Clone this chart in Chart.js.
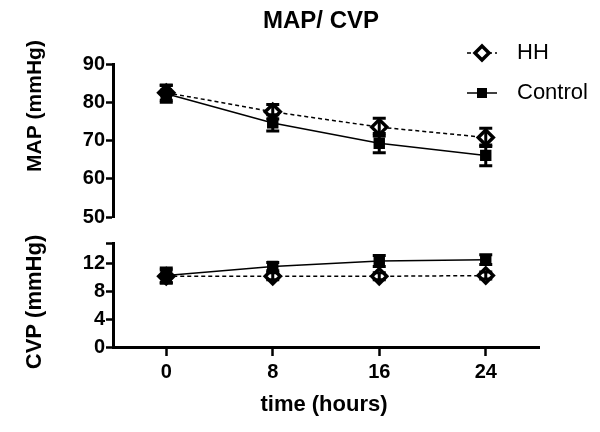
<!DOCTYPE html>
<html>
<head>
<meta charset="utf-8">
<script src="https://cdn.jsdelivr.net/npm/chart.js@4.4.0/dist/chart.umd.min.js"></script>
<style>
  body { margin: 0; background: #fff; }
  #wrap { position: relative; width: 600px; height: 432px; background: #fff; }
  #mapChart { position: absolute; left: 0; top: 0; width: 600px; height: 228px; }
  #cvpChart { position: absolute; left: 0; top: 228px; width: 600px; height: 204px; }
</style>
</head>
<body>
<div id="wrap">
  <canvas id="mapChart" width="600" height="228"></canvas>
  <canvas id="cvpChart" width="600" height="204"></canvas>
</div>
<script>
// data (mean +/- SEM)
var hours = [0, 8, 16, 24];
var mapHH = [82.5, 77.5, 73.5, 70.8];
var mapHHErr = [2.0, 1.9, 2.3, 2.4];
var mapControl = [82.2, 74.6, 69.3, 66.1];
var mapControlErr = [2.2, 2.1, 2.5, 2.7];
var cvpHH = [10.2, 10.2, 10.2, 10.3];
var cvpHHErr = [0.9, 0.5, 0.5, 0.5];
var cvpControl = [10.3, 11.6, 12.4, 12.6];
var cvpControlErr = [1.1, 0.6, 0.8, 0.7];

var timeTicks = [0, 8, 16, 24];
var mapTicks = [50, 60, 70, 80, 90];
var cvpTicks = [0, 4, 8, 12];
var cvpMax = 15;

var FONT = "'Liberation Sans', Arial, sans-serif";

function pts(xs, ys) {
  return xs.map(function (x, i) { return { x: x, y: ys[i] }; });
}

function hhSet(values, errs) {
  return {
    label: 'HH', data: pts(hours, values), errors: errs,
    borderColor: '#000', borderWidth: 1.5, borderDash: [4, 3],
    pointStyle: 'rectRot', pointRadius: 7.5, pointBorderWidth: 3.5,
    pointBackgroundColor: '#fff', pointBorderColor: '#000', order: 1
  };
}
function ctrlSet(values, errs) {
  return {
    label: 'Control', data: pts(hours, values), errors: errs,
    borderColor: '#000', borderWidth: 1.5,
    pointStyle: 'rect', pointRadius: 7, pointBorderWidth: 1.5,
    pointBackgroundColor: '#000', pointBorderColor: '#000', order: 0
  };
}

// error bars drawn through the y scale
var errorBars = {
  id: 'errorBars',
  afterDatasetsDraw: function (chart) {
    var ctx = chart.ctx, ys = chart.scales.y;
    ctx.save();
    ctx.strokeStyle = '#000';
    ctx.lineWidth = 3;
    chart.data.datasets.forEach(function (ds, i) {
      chart.getDatasetMeta(i).data.forEach(function (p, j) {
        var v = ds.data[j].y, e = ds.errors[j];
        var t = ys.getPixelForValue(v + e), b = ys.getPixelForValue(v - e);
        ctx.beginPath();
        ctx.moveTo(p.x, t); ctx.lineTo(p.x, b);
        ctx.moveTo(p.x - 6.5, t); ctx.lineTo(p.x + 6.5, t);
        ctx.moveTo(p.x - 6.5, b); ctx.lineTo(p.x + 6.5, b);
        ctx.stroke();
      });
    });
    ctx.restore();
  }
};

// free text (titles) and the legend
var texts = {
  id: 'texts',
  afterDraw: function (chart, args, opts) {
    var ctx = chart.ctx;
    (opts.items || []).forEach(function (it) {
      ctx.save();
      ctx.translate(it.x, it.y);
      if (it.rot) ctx.rotate(it.rot);
      ctx.font = it.font;
      ctx.fillStyle = '#000';
      ctx.textAlign = it.align || 'center';
      ctx.textBaseline = 'middle';
      ctx.fillText(it.text, 0, 0);
      ctx.restore();
    });
    (opts.legend || []).forEach(function (lg) {
      var ds = chart.data.datasets[lg.index];
      ctx.save();
      ctx.strokeStyle = '#000';
      ctx.lineWidth = 1.5;
      ctx.setLineDash(ds.borderDash || []);
      ctx.beginPath();
      ctx.moveTo(lg.x - 15, lg.y); ctx.lineTo(lg.x + 15, lg.y);
      ctx.stroke();
      ctx.setLineDash([]);
      ctx.fillStyle = ds.pointBackgroundColor;
      ctx.lineWidth = ds.pointBorderWidth;
      Chart.helpers.drawPoint(ctx, {
        pointStyle: ds.pointStyle, rotation: 0,
        radius: ds.pointStyle === 'rect' ? 6 : 7, borderWidth: ds.pointBorderWidth
      }, lg.x, lg.y);
      ctx.fillStyle = '#000';
      ctx.font = '22px ' + FONT;
      ctx.textAlign = 'left';
      ctx.textBaseline = 'middle';
      ctx.fillText(ds.label, lg.x + 35, lg.y);
      ctx.restore();
    });
  }
};

function yAxis(min, max, ticks, labelled) {
  return {
    type: 'linear', min: min, max: max,
    afterBuildTicks: function (s) { s.ticks = ticks.map(function (v) { return { value: v }; }); },
    afterFit: function (s) { s.width = 113; s.paddingTop = 0; s.paddingBottom = 0; },
    border: { display: true, color: '#000', width: 3 },
    grid: { drawOnChartArea: false, drawTicks: true, tickLength: 7, tickWidth: 2.5, tickColor: '#000', color: '#000' },
    ticks: {
      autoSkip: false, padding: 1, color: '#000', font: { family: FONT, size: 20, weight: 'bold' },
      callback: function (v) { return labelled.indexOf(v) >= 0 ? String(v) : ''; }
    }
  };
}

new Chart(document.getElementById('mapChart'), {
  type: 'line',
  data: { datasets: [hhSet(mapHH, mapHHErr), ctrlSet(mapControl, mapControlErr)] },
  plugins: [errorBars, texts],
  options: {
    responsive: false, animation: false,
    layout: { padding: { left: 0, top: 64, right: 61, bottom: 6 } },
    scales: {
      x: { type: 'linear', min: -4, max: 28, display: false },
      y: yAxis(50, 90, mapTicks, mapTicks)
    },
    plugins: {
      legend: { display: false }, tooltip: { enabled: false },
      texts: {
        items: [
          { text: 'MAP/ CVP', x: 321, y: 21, font: 'bold 24px ' + FONT },
          { text: 'MAP (mmHg)', x: 35, y: 106, rot: -Math.PI / 2, font: 'bold 21px ' + FONT }
        ],
        legend: [{ index: 0, x: 482, y: 53 }, { index: 1, x: 482, y: 93 }]
      }
    }
  }
});

new Chart(document.getElementById('cvpChart'), {
  type: 'line',
  data: { datasets: [hhSet(cvpHH, cvpHHErr), ctrlSet(cvpControl, cvpControlErr)] },
  plugins: [errorBars, texts],
  options: {
    responsive: false, animation: false,
    layout: { padding: { left: 0, top: 15, right: 61, bottom: 0 } },
    scales: {
      x: {
        type: 'linear', min: -4, max: 28,
        afterBuildTicks: function (s) { s.ticks = timeTicks.map(function (v) { return { value: v }; }); },
        afterFit: function (s) { s.height = 85; s.paddingLeft = 0; s.paddingRight = 0; },
        border: { display: true, color: '#000', width: 3 },
        grid: { drawOnChartArea: false, drawTicks: true, tickLength: 9, tickWidth: 2.5, tickColor: '#000', color: '#000' },
        ticks: { autoSkip: false, padding: 4, maxRotation: 0, color: '#000', font: { family: FONT, size: 20, weight: 'bold' } }
      },
      y: yAxis(0, cvpMax, cvpTicks.concat([cvpMax]), cvpTicks)
    },
    plugins: {
      legend: { display: false }, tooltip: { enabled: false },
      texts: {
        items: [
          { text: 'CVP (mmHg)', x: 35, y: 74, rot: -Math.PI / 2, font: 'bold 22px ' + FONT },
          { text: 'time (hours)', x: 324, y: 177, font: 'bold 22px ' + FONT }
        ]
      }
    }
  }
});
</script>
</body>
</html>
